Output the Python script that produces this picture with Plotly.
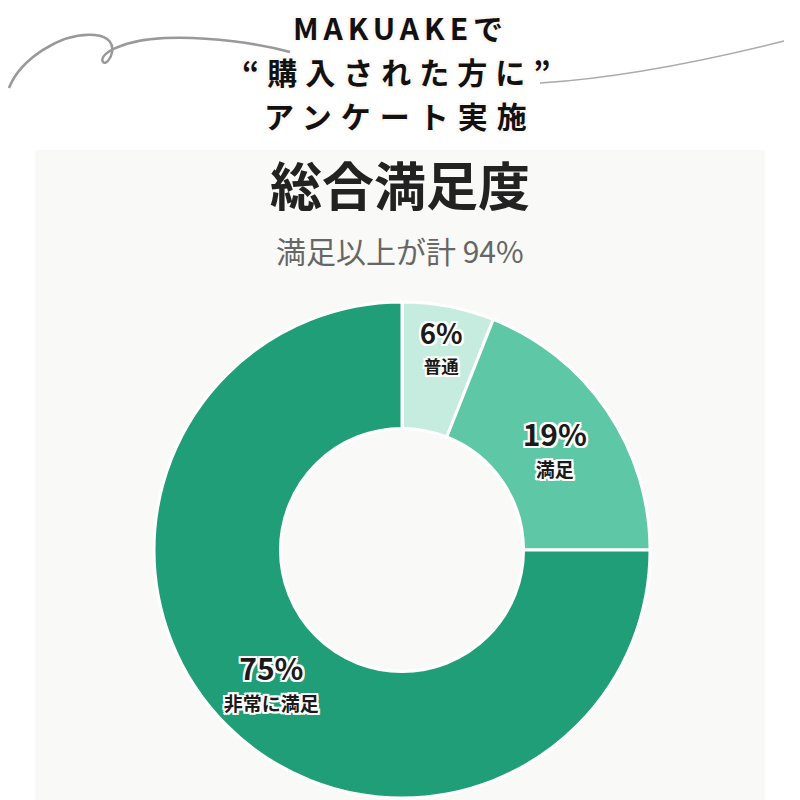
import plotly.graph_objects as go

# ---- data ----
labels = ["普通", "満足", "非常に満足"]
values = [6, 19, 75]
colors = ["#c6ecdf", "#5ec8a6", "#1f9e77"]

title_lines = ["MAKUAKEで", "“購入された方に”", "アンケート実施"]
chart_title = "総合満足度"
chart_subtitle = "満足以上が計 94%"

FONT = "Noto Sans CJK JP"
W, H = 800, 800

def halo(px, color="white"):
    parts = []
    for dx in (-px, 0, px):
        for dy in (-px, 0, px):
            if dx or dy:
                parts.append(f"{dx}px {dy}px 0 {color}")
    return ", ".join(parts)

fig = go.Figure()

cx, cy, r = 402, 550, 248
fig.add_trace(go.Pie(
    labels=labels,
    values=values,
    sort=False,
    direction="clockwise",
    rotation=0,
    hole=0.49,
    marker=dict(colors=colors, line=dict(color="white", width=3)),
    texttemplate=("<span style='font-size:30px'><b>%{percent:.0%}</b></span><br>"
                  "<span style='font-size:19px'><b>%{label}</b></span>"),
    textposition="inside",
    insidetextorientation="horizontal",
    textfont=dict(family=FONT, size=24, color="#1a1a1a", shadow=halo(2)),
    domain=dict(x=[(cx - r) / W, (cx + r) / W], y=[(H - cy - r) / H, (H - cy + r) / H]),
    showlegend=False,
    hoverinfo="skip",
))

shapes = [
    dict(type="rect", xref="paper", yref="paper", layer="below",
         x0=35 / W, x1=765 / W, y0=0, y1=1 - 150 / H,
         fillcolor="#f9f9f7", line=dict(width=0)),
]

def P(x, y):
    return f"{x / W:.4f},{1 - y / H:.4f}"

left_path = ("M " + P(9, 88) + " C " + P(20, 60) + " " + P(60, 32) + " " + P(95, 35)
             + " C " + P(125, 38) + " " + P(108, 68) + " " + P(103, 62)
             + " C " + P(98, 55) + " " + P(120, 40) + " " + P(165, 38)
             + " C " + P(210, 36) + " " + P(260, 44) + " " + P(290, 52))
right_path = ("M " + P(540, 83) + " C " + P(620, 78) + " " + P(700, 62) + " " + P(784, 41))
shapes.append(dict(type="path", xref="paper", yref="paper", path=left_path,
                   line=dict(color="#999999", width=2.5)))
shapes.append(dict(type="path", xref="paper", yref="paper", path=right_path,
                   line=dict(color="#aaaaaa", width=1.5)))

annotations = []
for line, y, sp in zip(title_lines, [27, 71, 115], [5, 8, 9]):
    annotations.append(dict(
        text=f"<span style='letter-spacing:{sp}px'><b>{line}</b></span>",
        x=0.5, y=1 - y / H, xref="paper", yref="paper",
        xanchor="center", yanchor="middle", showarrow=False, align="center",
        font=dict(family=FONT, size=30, color="#111111", shadow=halo(2, "#fdf8f4"))))

annotations.append(dict(
    text=f"<b>{chart_title}</b>", x=0.5, y=1 - 183 / H, xref="paper", yref="paper",
    xanchor="center", yanchor="middle", showarrow=False,
    font=dict(family=FONT, size=52, color="#222222")))
annotations.append(dict(
    text=chart_subtitle, x=0.5, y=1 - 250 / H, xref="paper", yref="paper",
    xanchor="center", yanchor="middle", showarrow=False,
    font=dict(family=FONT, size=30, color="#666666")))

fig.update_layout(
    width=W, height=H,
    margin=dict(l=0, r=0, t=0, b=0),
    paper_bgcolor="white",
    plot_bgcolor="white",
    shapes=shapes,
    annotations=annotations,
)

fig.write_html("out.html")
